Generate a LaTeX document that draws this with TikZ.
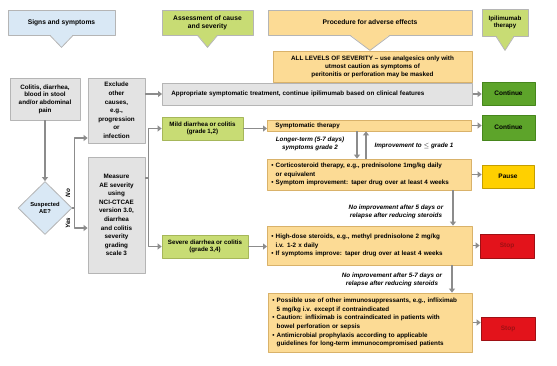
\documentclass[tikz,border=0pt]{standalone}
\usepackage{fontspec}
\setmainfont{Liberation Sans}
\usetikzlibrary{shapes.geometric,arrows.meta,calc}
\definecolor{grayfill}{HTML}{E3E3E3}
\definecolor{graydraw}{HTML}{B5B5B5}
\definecolor{bluefill}{HTML}{D9E8F5}
\definecolor{lgreen}{HTML}{C8DC74}
\definecolor{lgreendraw}{HTML}{A6B75A}
\definecolor{orangefill}{HTML}{FCDB95}
\definecolor{orangedraw}{HTML}{D9B26A}
\definecolor{contgreen}{HTML}{5DA42A}
\definecolor{contdraw}{HTML}{46861C}
\definecolor{pausefill}{HTML}{FFD000}
\definecolor{pausedraw}{HTML}{C49E00}
\definecolor{stopfill}{HTML}{E3131B}
\definecolor{stopdraw}{HTML}{9E1014}
\definecolor{arrowgray}{HTML}{8C8C8C}
% downward tip under a header box: node, half width, depth, colour
\newcommand\hdrtip[4]{%
\fill[#4] ([xshift=-#2pt,yshift=0.8pt]#1.south) -- ([yshift=-#3pt]#1.south) -- ([xshift=#2pt,yshift=0.8pt]#1.south) -- cycle;
\draw[graydraw,line width=0.8pt] ([xshift=-#2pt]#1.south) -- ([yshift=-#3pt]#1.south) -- ([xshift=#2pt]#1.south);}
\begin{document}
\begin{tikzpicture}[x=1pt,y=-1pt,font=\fontsize{6.3}{8.6}\selectfont\bfseries,line join=round,
  base/.style={line width=0.8pt,inner sep=0pt,align=center},
  gbox/.style={base,draw=graydraw,fill=grayfill},
  hbox/.style={base,draw=graydraw,font=\fontsize{6.7}{8}\selectfont\bfseries},
  lbox/.style={base,draw=lgreendraw,fill=lgreen,font=\fontsize{6.2}{7.6}\selectfont\bfseries},
  obox/.style={base,draw=orangedraw,fill=orangefill},
  bbox/.style={obox,align=left,anchor=west,text width=#1,inner xsep=4pt},
  res/.style={base,font=\fontsize{6.5}{7}\selectfont\bfseries},
  lab/.style={font=\fontsize{6.3}{7.8}\selectfont\bfseries\itshape,align=center},
  ar/.style={draw=arrowgray,line width=1.6pt,-{Triangle[length=4pt,width=6pt]}}]
\useasboundingbox (0,0) rectangle (557,365);

% headers
\node[hbox,fill=bluefill,minimum width=107pt,minimum height=25pt] (sig) at (61.5,22.5) {Signs and symptoms};
\node[hbox,fill=lgreen,minimum width=91pt,minimum height=25pt] (assess) at (207.5,22.5) {Assessment of cause\\and severity};
\node[hbox,fill=orangefill,minimum width=204pt,minimum height=25pt] (proc) at (370,22.5) {Procedure for adverse effects};
\node[hbox,fill=lgreen,minimum width=46pt,minimum height=27pt,font=\fontsize{6.2}{7.4}\selectfont\bfseries] (ipi) at (505,22.5) {Ipilimumab\\therapy};
\hdrtip{sig}{11.5}{12}{bluefill}
\hdrtip{assess}{10}{12}{lgreen}
\hdrtip{proc}{20}{15}{orangefill}
\hdrtip{ipi}{9}{14}{lgreen}

% left columns
\node[gbox,font=\fontsize{6.3}{7.6}\selectfont\bfseries,minimum width=70pt,minimum height=42pt] (colitis) at (45,99) {Colitis, diarrhea,\\blood in stool\\and/or abdominal\\pain};
\node[shape=diamond,base,aspect=1,draw=graydraw,fill=bluefill,minimum width=54pt,minimum height=53pt,font=\fontsize{5.8}{6.8}\selectfont\bfseries] (suspected) at (45,208) {Suspected\\AE?};
\node[gbox,minimum width=57pt,minimum height=65pt] (exclude) at (116.5,110.5) {Exclude\\other\\causes,\\e.g.,\\progression\\or\\infection};
\node[gbox,minimum width=57pt,minimum height=116pt] (measure) at (116.5,215) {Measure\\AE severity\\using\\NCI-CTCAE\\version 3.0,\\diarrhea\\and colitis\\severity\\grading\\scale 3};
\node[lbox,minimum width=81pt,minimum height=23pt] (mild) at (202.5,128.5) {Mild diarrhea or colitis\\(grade 1,2)};
\node[lbox,minimum width=86pt,minimum height=23pt] (severe) at (205,246.5) {Severe diarrhea or colitis\\(grade 3,4)};

% procedures
\node[obox,font=\fontsize{6.3}{8}\selectfont\bfseries,minimum width=199pt,minimum height=31pt] (allsev) at (372.5,66.5) {ALL LEVELS OF SEVERITY -- use analgesics only with\\utmost caution as symptoms of\\peritonitis or perforation may be masked};
\node[gbox,anchor=west,align=left,text width=292pt,inner xsep=9pt,minimum height=22pt] (approp) at (162,94) {Appropriate symptomatic treatment, continue ipilimumab based on clinical features};
\node[obox,anchor=west,align=left,text width=188pt,inner xsep=8pt,minimum height=11pt] (sympt) at (267,125.5) {Symptomatic therapy};
\node[bbox=196pt,minimum height=31pt] (cort) at (267,174.5) {\textbullet\ Corticosteroid therapy, e.g., prednisolone 1mg/kg daily\\\hphantom{\textbullet\ }or equivalent\\\textbullet\ Symptom improvement: taper drug over at least 4 weeks};
\node[bbox=197pt,minimum height=39pt] (highd) at (267,245.5) {\textbullet\ High-dose steroids, e.g., methyl prednisolone 2 mg/kg\\\hphantom{\textbullet\ }i.v. 1-2 x daily\\\textbullet\ If symptoms improve: taper drug over at least 4 weeks};
\node[bbox=196pt,minimum height=59pt] (immuno) at (268,322.5) {\textbullet\ Possible use of other immunosuppressants, e.g., infliximab\\\hphantom{\textbullet\ }5 mg/kg i.v. except if contraindicated\\\textbullet\ Caution: infliximab is contraindicated in patients with\\\hphantom{\textbullet\ }bowel perforation or sepsis\\\textbullet\ Antimicrobial prophylaxis according to applicable\\\hphantom{\textbullet\ }guidelines for long-term immunocompromised patients};

% therapy column
\node[res,draw=contdraw,fill=contgreen,minimum width=53pt,minimum height=23pt] (cont1) at (508.5,93.5) {Continue};
\node[res,draw=contdraw,fill=contgreen,minimum width=53pt,minimum height=25pt] (cont2) at (508.5,127.5) {Continue};
\node[res,draw=pausedraw,fill=pausefill,minimum width=52pt,minimum height=23pt] (pause) at (508,176.5) {Pause};
\node[res,draw=stopdraw,fill=stopfill,text=stopdraw,minimum width=54pt,minimum height=24pt] (stop1) at (507,246) {Stop};
\node[res,draw=stopdraw,fill=stopfill,text=stopdraw,minimum width=54pt,minimum height=23pt] (stop2) at (508,328.5) {Stop};

% connectors
\draw[ar] (colitis) -- (suspected);
\draw[ar] (suspected.east) -- ++(2,0) |- ([yshift=-27.5pt]exclude.west);
\draw[ar] (suspected.east) -- ++(2,0) |- ([yshift=-13pt]measure.west);
\node[lab,rotate=90] (no) at (68,193) {No};
\node[lab,rotate=90] (yes) at (68,223) {Yes};
\draw[ar] (exclude.east |- approp.west) -- (approp.west);
\draw[ar] ([yshift=37pt]measure.east) -- ++(3,0) |- (mild.west);
\draw[ar] ([yshift=37pt]measure.east) -- ++(3,0) |- (severe.west);
\draw[ar] (mild.east) -- (mild.east -| sympt.west);
\draw[ar] (severe.east) -- (severe.east -| highd.west);
\draw[ar] (approp.east) -- (approp.east -| cont1.west);
\draw[ar] (sympt.east) -- (sympt.east -| cont2.west);
\draw[ar] (cort.east) -- (cort.east -| pause.west);
\draw[ar] (highd.east) -- (highd.east -| stop1.west);
\draw[ar] (immuno.east) -- (immuno.east -| stop2.west);
\draw[ar] ([xshift=90pt]sympt.south west) -- ([xshift=90pt]sympt.south west |- cort.north);
\draw[ar] ([xshift=99pt]cort.north west) -- ([xshift=99pt]cort.north west |- sympt.south);
\node[lab] (longer) at (310,144) {Longer-term (5-7 days)\\symptoms grade 2};
\node[lab,anchor=west] (improv) at (371,146) {Improvement to $\leq$ grade 1};
\draw[ar] ([xshift=186pt]cort.south west) -- ([xshift=186pt]cort.south west |- highd.north);
\node[lab] (noimp1) at (396,212) {No improvement after 5 days or\\relapse after reducing steroids};
\draw[ar] ([xshift=185pt]highd.south west) -- ([xshift=185pt]highd.south west |- immuno.north);
\node[lab] (noimp2) at (392,280) {No improvement after 5-7 days or\\relapse after reducing steroids};
\end{tikzpicture}
\end{document}
